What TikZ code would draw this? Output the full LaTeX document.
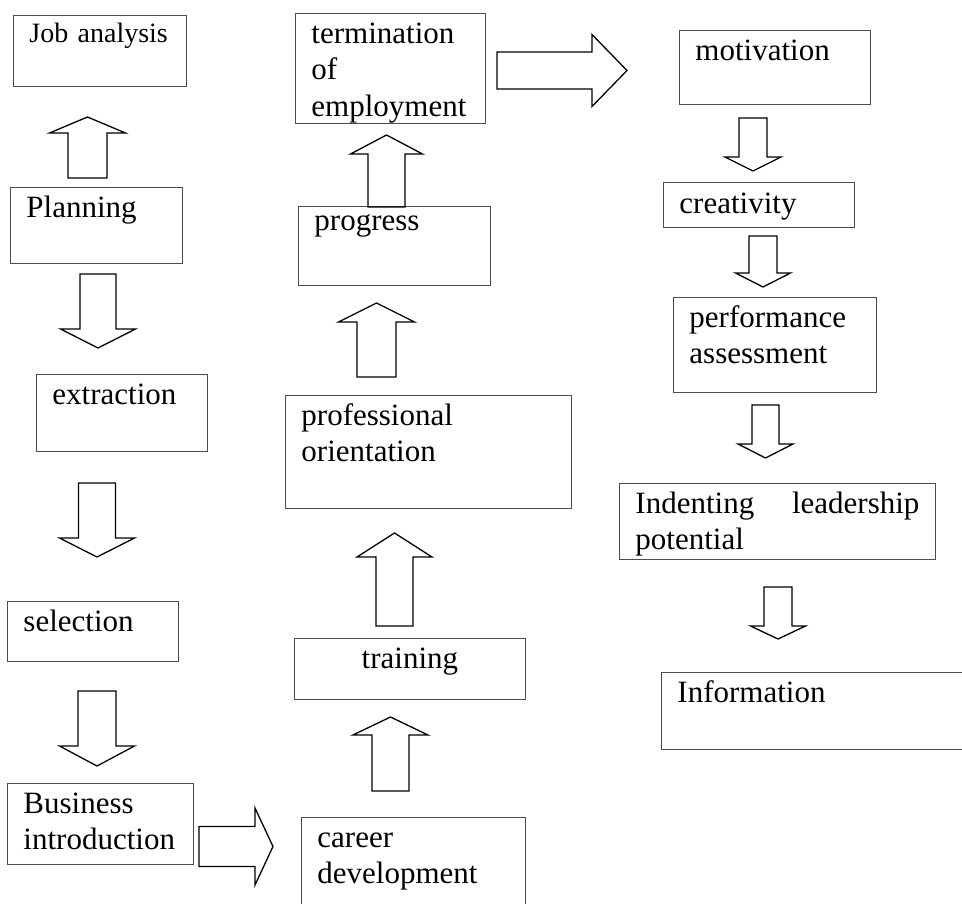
\documentclass[tikz,border=0pt]{standalone}
\usepackage{fontspec}
\setmainfont{Liberation Serif}

\tikzset{stage/.style={draw=black!70,line width=0.9pt,anchor=north west,inner xsep=16pt,inner ysep=8pt,
                       text height=22pt,align=left,font=\fontsize{31}{36.5}\selectfont},
         pics/blockarrow/.style n args={4}{code={
           \draw[line width=1.3pt,miter limit=20] (0,-#2) -- (#1-#4,-#2) -- (#1-#4,-#3) -- (#1,0)
                 -- (#1-#4,#3) -- (#1-#4,#2) -- (0,#2) -- cycle;}}}

\begin{document}
\begin{tikzpicture}[x=1pt,y=-1pt]
                  \useasboundingbox (0,0) rectangle (962,904);
                  % first column
                  \node[stage,text width=141pt,text height=19pt,text depth=36pt,font=\fontsize{28}{33}\selectfont] (job) at (13,15) {Job analysis};
                  \node[stage,text width=140pt,text depth=38pt] (plan) at (10,187) {Planning};
                  \node[stage,text width=139pt,text depth=39pt] (extr) at (36,374) {extraction};
                  \node[stage,text width=139pt,text depth=22pt] (sel) at (7,601) {selection};
                  \node[stage,text width=154pt,text depth=43pt] (bus) at (7,783) {Business\\introduction};
                  % second column
                  \node[stage,text width=192pt,text depth=62pt] (career) at (301,817) {career\\development};
                  \node[stage,text width=199pt,text depth=23pt,align=center] (train) at (294,638) {training};
                  \node[stage,text width=254pt,text depth=75pt] (prof) at (285,395) {professional\\orientation};
                  \node[stage,text width=160pt,text height=16pt,text depth=47pt] (prog) at (298,206) {progress};
                  \node[stage,text width=158pt,text depth=72pt] (term) at (295,13) {termination\\of\\employment};
                  % third column
                  \node[stage,text width=159pt,text depth=36pt] (motiv) at (679,30) {motivation};
                  \node[stage,text width=159pt,text height=23pt,text depth=6pt] (creat) at (663,182) {creativity};
                  \node[stage,text width=171pt,text depth=57pt] (perf) at (673,297) {performance\\assessment};
                  \node[stage,text width=284pt,text depth=38pt,align=justify] (lead) at (619,483) {Indenting leadership potential};
                  \node[stage,text width=278pt,text depth=39pt] (info) at (661,672) {Information};
                  % arrows between the stages
                  \pic[rotate=90] at (87.5,178) {blockarrow={61}{19.5}{38}{16}};   % plan -> job
                  \pic[rotate=-90] at (98,274) {blockarrow={74}{18}{37.5}{19}};    % plan -> extr
                  \pic[rotate=-90] at (97,483) {blockarrow={74}{18.5}{37.5}{19}};  % extr -> sel
                  \pic[rotate=-90] at (97,691) {blockarrow={75}{19}{37.5}{20}};    % sel -> bus
                  \pic at (199,846.5) {blockarrow={74}{20}{38.5}{18}};             % bus -> career
                  \pic[rotate=90] at (390.5,791) {blockarrow={74}{18.5}{37.5}{18}}; % career -> train
                  \pic[rotate=90] at (394.5,626) {blockarrow={93}{18.5}{37.5}{24}}; % train -> prof
                  \pic[rotate=90] at (376.5,377) {blockarrow={74}{19.5}{38}{19}};   % prof -> prog
                  \pic[rotate=90] at (386.5,207) {blockarrow={72}{18.5}{36}{19}};   % prog -> term
                  \pic at (497,70.5) {blockarrow={130}{18.5}{36}{35}};              % term -> motiv
                  \pic[rotate=-90] at (753,118) {blockarrow={53}{14}{28}{14}};      % motiv -> creat
                  \pic[rotate=-90] at (763,236) {blockarrow={51}{14}{27.5}{14}};    % creat -> perf
                  \pic[rotate=-90] at (765.5,405) {blockarrow={53}{13.5}{27.5}{14}}; % perf -> lead
                  \pic[rotate=-90] at (778,587) {blockarrow={52}{14}{27.5}{13}};    % lead -> info
              \end{tikzpicture}
\end{document}
